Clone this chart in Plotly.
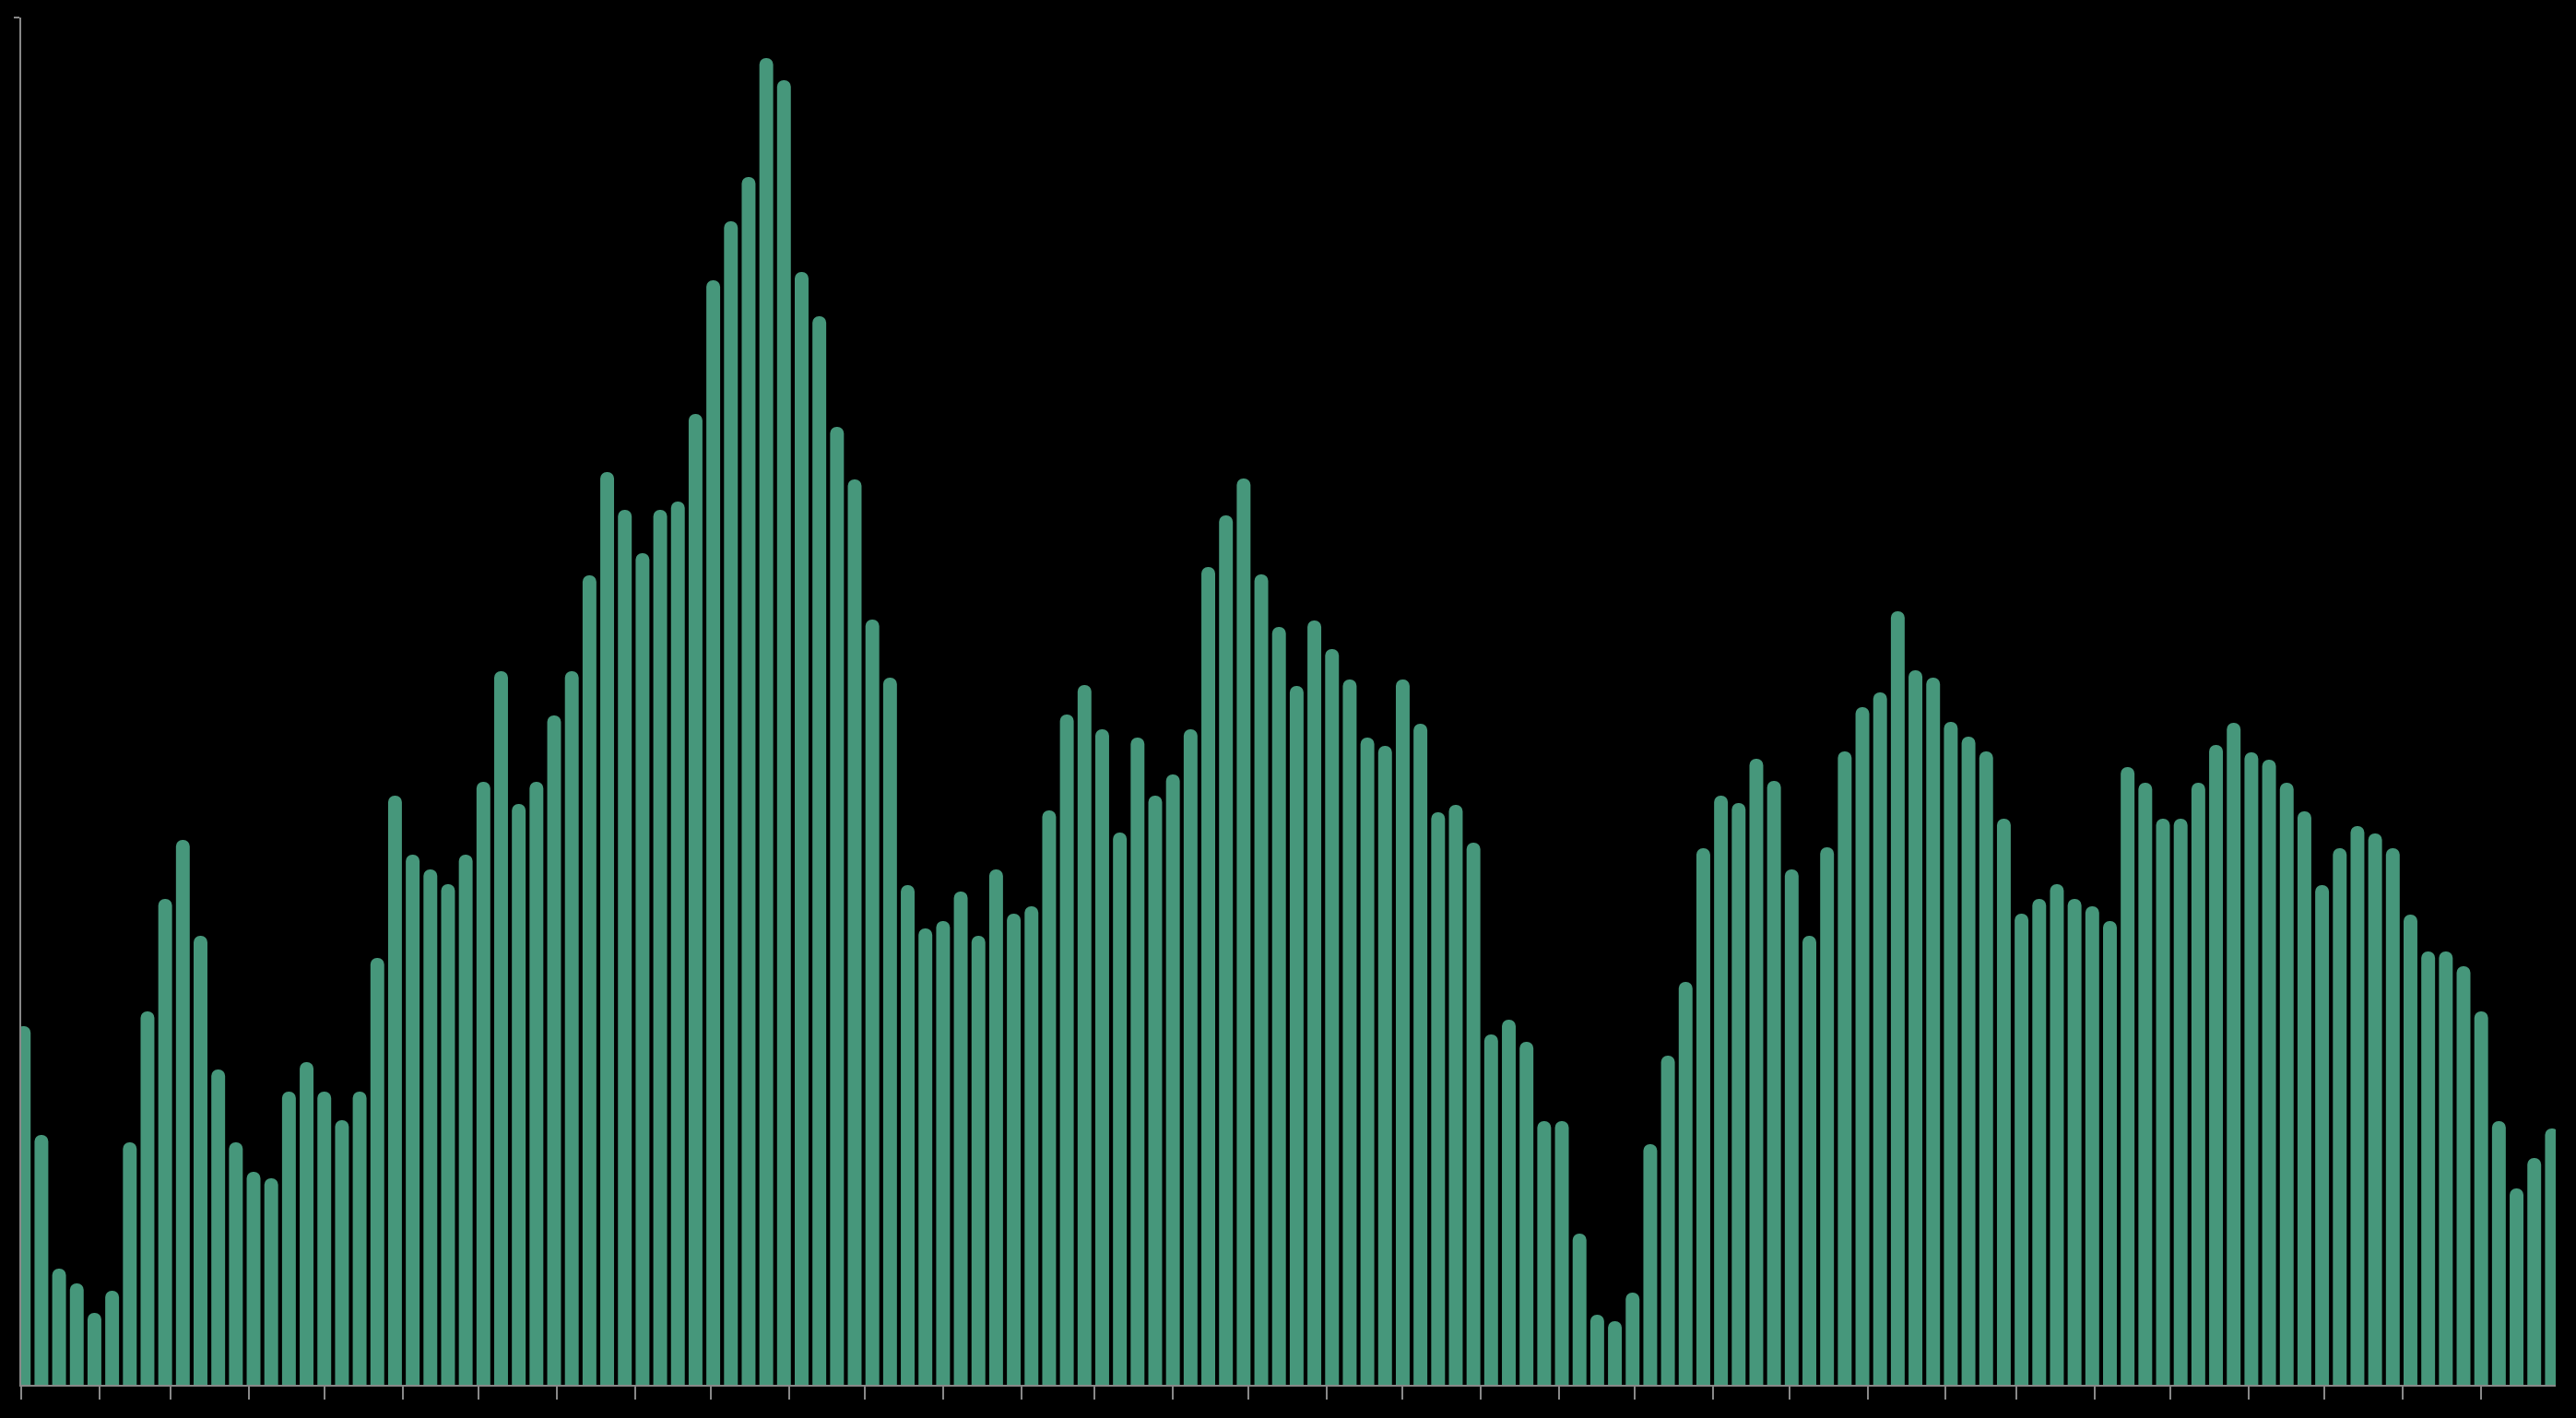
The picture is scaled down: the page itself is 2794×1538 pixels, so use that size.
import pandas as pd
import plotly.graph_objects as go

# Weekly dates (144 weeks starting early January 2019)
week_start = "2019-01-02"
n_weeks = 144
dates = pd.date_range(week_start, periods=n_weeks, freq="7D")

values = [
    389, 271, 126, 110, 78, 102, 263, 405, 527, 591, 487, 342, 263, 231, 224, 318, 350, 318, 287, 318, 463, 639, 575, 559,
    543, 575, 654, 774, 630, 654, 726, 774, 878, 990, 949, 902, 949, 958, 1053, 1198, 1262, 1310, 1439, 1415, 1207, 1159, 1039, 982,
    830, 767, 542, 495, 503, 535, 487, 559, 511, 519, 623, 727, 759, 711, 599, 702, 639, 662, 711, 887, 943, 983, 879, 822,
    758, 829, 798, 765, 702, 693, 765, 717, 621, 629, 588, 380, 396, 372, 286, 286, 164, 76, 69, 100, 261, 357, 437, 582,
    639, 631, 679, 655, 559, 487, 583, 687, 735, 751, 839, 775, 767, 719, 703, 687, 614, 511, 527, 543, 527, 519, 503, 670,
    653, 614, 614, 653, 694, 718, 686, 678, 653, 622, 542, 582, 606, 598, 582, 510, 470, 470, 454, 405, 286, 213, 246, 278,
]

x_range = ["2019-01-01", "2021-09-30 12:00"]
y_max = 1483

bar_color = "rgb(70,151,123)"
axis_color = "#888888"

fig = go.Figure(
    go.Bar(
        x=dates,
        y=values,
        marker=dict(color=bar_color, line=dict(width=0), cornerradius=7),
        hoverinfo="x+y",
    )
)

fig.update_layout(
    width=2794,
    height=1538,
    margin=dict(l=23, r=22, t=19, b=36),
    paper_bgcolor="black",
    plot_bgcolor="black",
    bargap=0.22,
    showlegend=False,
)

fig.update_xaxes(
    type="date",
    range=x_range,
    showgrid=False,
    zeroline=False,
    showline=True,
    linecolor=axis_color,
    linewidth=2,
    ticks="outside",
    ticklen=14,
    tickwidth=2,
    tickcolor=axis_color,
    tick0="2019-01-01",
    dtick="M1",
    showticklabels=False,
)

fig.update_yaxes(
    range=[0, y_max],
    showgrid=False,
    zeroline=False,
    showline=True,
    linecolor=axis_color,
    linewidth=2,
    ticks="outside",
    ticklen=6,
    tickwidth=2,
    tickcolor=axis_color,
    tickvals=[y_max],
    showticklabels=False,
)

page_fix = (
    "document.body.style.margin='0';"
    "document.body.style.background='black';"
    "document.body.style.overflow='hidden';"
)

fig.write_html("out.html", post_script=page_fix, config={"displayModeBar": False})
